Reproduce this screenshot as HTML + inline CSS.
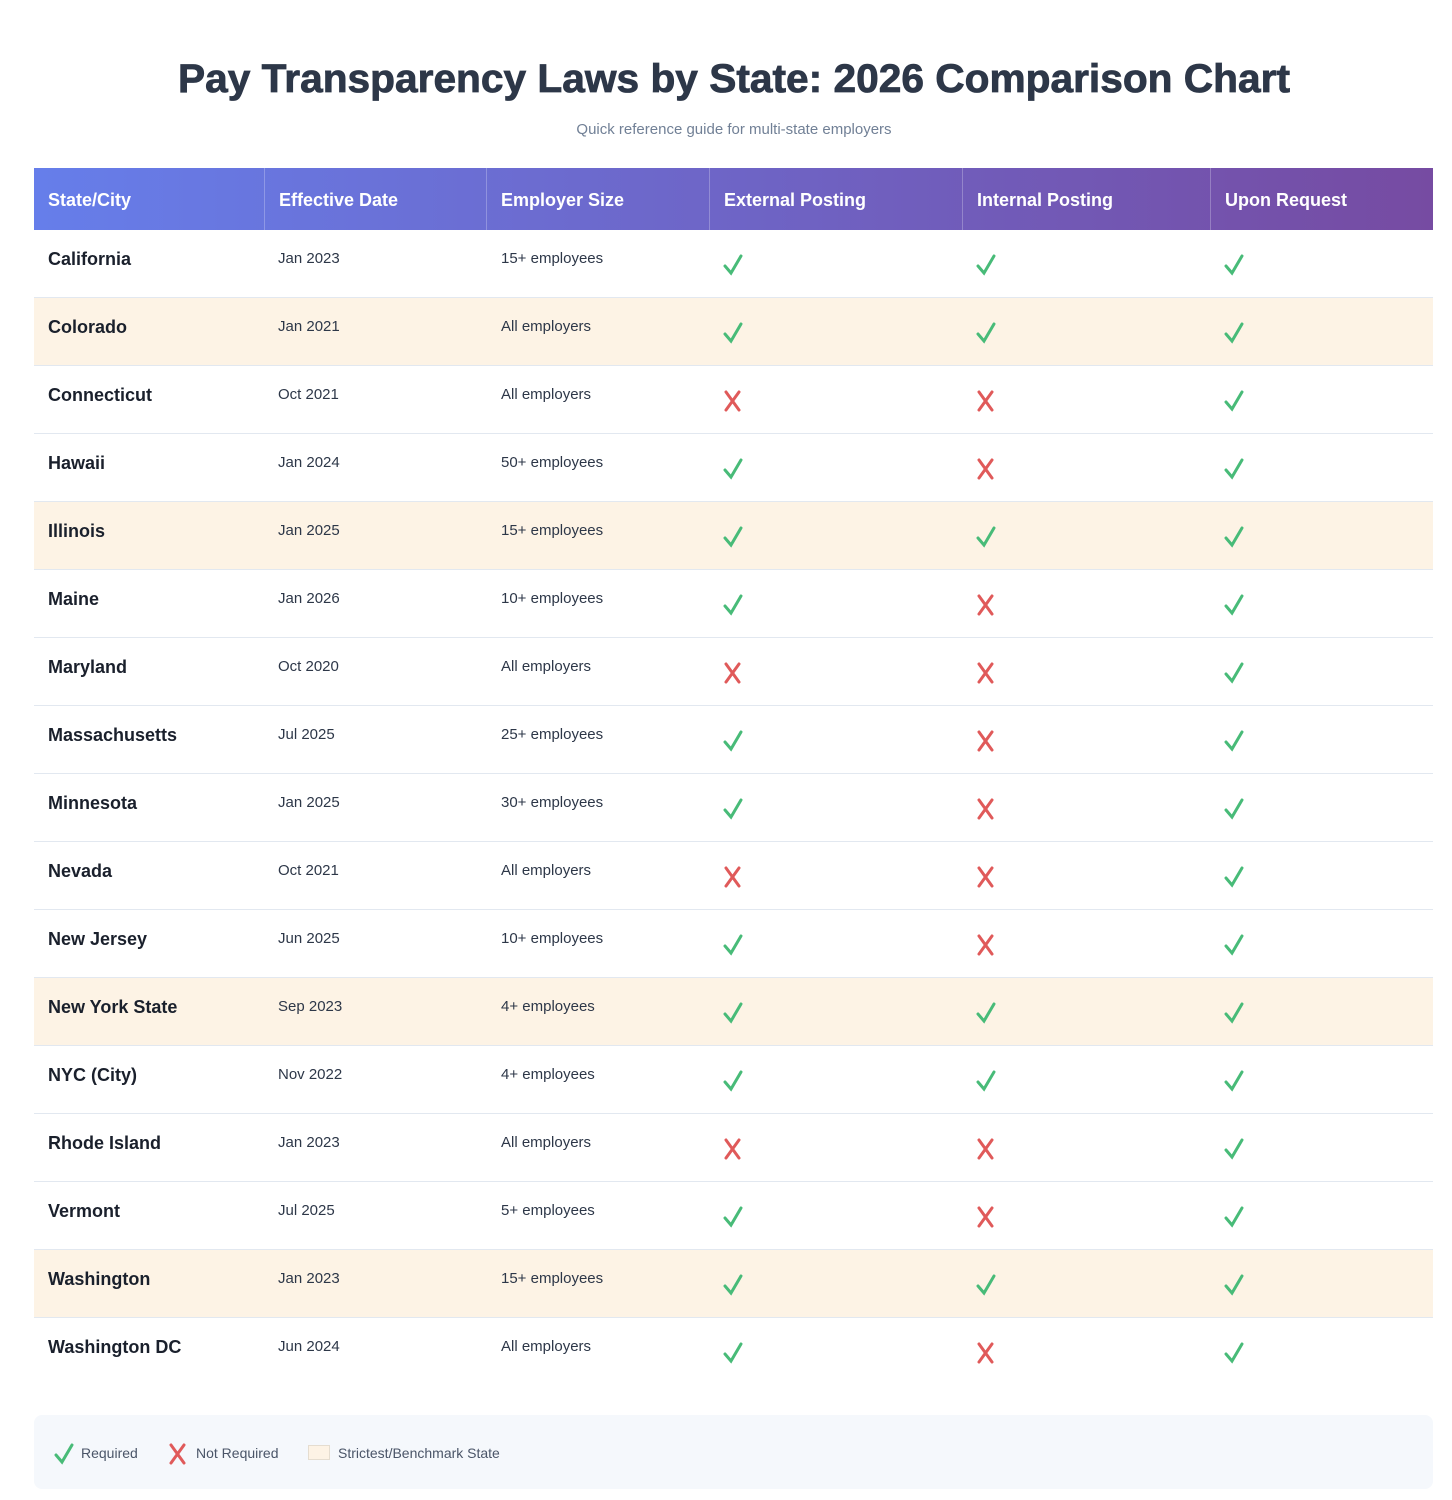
<!DOCTYPE html>
<html><head><meta charset="utf-8"><style>
body{margin:0;width:1452px;height:1500px;background:#fff;font-family:"Liberation Sans",sans-serif;position:relative;overflow:hidden}
.a{position:absolute}
.hd{position:absolute;left:34px;top:168px;width:1399px;height:62px;background:linear-gradient(90deg,#667eea,#764ba2)}
.hc{position:absolute;top:0;height:62px;line-height:64px;color:#fff;font-weight:bold;font-size:18px;border-left:1px solid rgba(255,255,255,.25);padding-left:14px;box-sizing:border-box}
.row{position:absolute;left:34px;width:1399px;height:68px;border-bottom:1px solid #e2e8f0;box-sizing:border-box}
.hl{background:#fdf3e5}
.n{position:absolute;left:14px;top:19px;font-weight:bold;font-size:18px;color:#1a202c}
.d{position:absolute;top:20px;font-size:15px;color:#2d3748}
.ic{position:absolute;top:24px}
</style></head><body>
<svg class="a" style="left:0;top:50px" width="1452" height="100">
<text x="734" y="42" text-anchor="middle" font-family="Liberation Sans" font-weight="bold" font-size="40" fill="#2d3748" stroke="#2d3748" stroke-width="0.8" textLength="1112" lengthAdjust="spacingAndGlyphs">Pay Transparency Laws by State: 2026 Comparison Chart</text>
<text x="734" y="84" text-anchor="middle" font-family="Liberation Sans" font-size="15" fill="#718096">Quick reference guide for multi-state employers</text>
</svg>
<div class="hd">
<div class="hc" style="left:0;width:230px;border-left:none">State/City</div>
<div class="hc" style="left:230px;width:222px">Effective Date</div>
<div class="hc" style="left:452px;width:223px">Employer Size</div>
<div class="hc" style="left:675px;width:253px">External Posting</div>
<div class="hc" style="left:928px;width:248px">Internal Posting</div>
<div class="hc" style="left:1176px;width:223px">Upon Request</div>
</div>
<div id="rows"></div>
<div class="a" style="left:34px;top:1415px;width:1399px;height:74px;background:#f5f8fc;border-radius:8px">
<svg class="a" style="left:20px;top:28px" width="20" height="22"><path d="M2 12 L8 19 L18 2" stroke="#48bb78" stroke-width="3" fill="none" stroke-linecap="round"/></svg>
<span class="a" style="left:47px;top:30px;font-size:14px;color:#4a5568">Required</span>
<svg class="a" style="left:134px;top:28px" width="20" height="22"><path d="M3 2 L16 20 M16 2 L3 20" stroke="#e05a5a" stroke-width="3" fill="none" stroke-linecap="round"/></svg>
<span class="a" style="left:162px;top:30px;font-size:14px;color:#4a5568">Not Required</span>
<div class="a" style="left:274px;top:30px;width:20px;height:13px;background:#fdf3e5;border:1px solid #e5ddd0"></div>
<span class="a" style="left:304px;top:30px;font-size:14px;color:#4a5568">Strictest/Benchmark State</span>
</div>
<script>
var D=[["California","Jan 2023","15+ employees",1,1,1,0],["Colorado","Jan 2021","All employers",1,1,1,1],["Connecticut","Oct 2021","All employers",0,0,1,0],["Hawaii","Jan 2024","50+ employees",1,0,1,0],["Illinois","Jan 2025","15+ employees",1,1,1,1],["Maine","Jan 2026","10+ employees",1,0,1,0],["Maryland","Oct 2020","All employers",0,0,1,0],["Massachusetts","Jul 2025","25+ employees",1,0,1,0],["Minnesota","Jan 2025","30+ employees",1,0,1,0],["Nevada","Oct 2021","All employers",0,0,1,0],["New Jersey","Jun 2025","10+ employees",1,0,1,0],["New York State","Sep 2023","4+ employees",1,1,1,1],["NYC (City)","Nov 2022","4+ employees",1,1,1,0],["Rhode Island","Jan 2023","All employers",0,0,1,0],["Vermont","Jul 2025","5+ employees",1,0,1,0],["Washington","Jan 2023","15+ employees",1,1,1,1],["Washington DC","Jun 2024","All employers",1,0,1,0]];
var ck='<svg width="20" height="22"><path d="M2 12 L8 19 L18 2" stroke="#48bb78" stroke-width="3" fill="none" stroke-linecap="round"/></svg>';
var cx='<svg width="20" height="22"><path d="M3 2 L16 20 M16 2 L3 20" stroke="#e05a5a" stroke-width="3" fill="none" stroke-linecap="round"/></svg>';
var h='';D.forEach(function(r,i){h+='<div class="row'+(r[6]?' hl':'')+'" style="top:'+(230+68*i)+'px;'+(i==16?'border-bottom:none':'')+'"><span class="n">'+r[0]+'</span><span class="d" style="left:244px">'+r[1]+'</span><span class="d" style="left:467px">'+r[2]+'</span>'+
'<span class="ic" style="left:689px">'+(r[3]?ck:cx)+'</span><span class="ic" style="left:942px">'+(r[4]?ck:cx)+'</span><span class="ic" style="left:1190px">'+(r[5]?ck:cx)+'</span></div>';});
document.getElementById('rows').innerHTML=h;
</script>
</body></html>
